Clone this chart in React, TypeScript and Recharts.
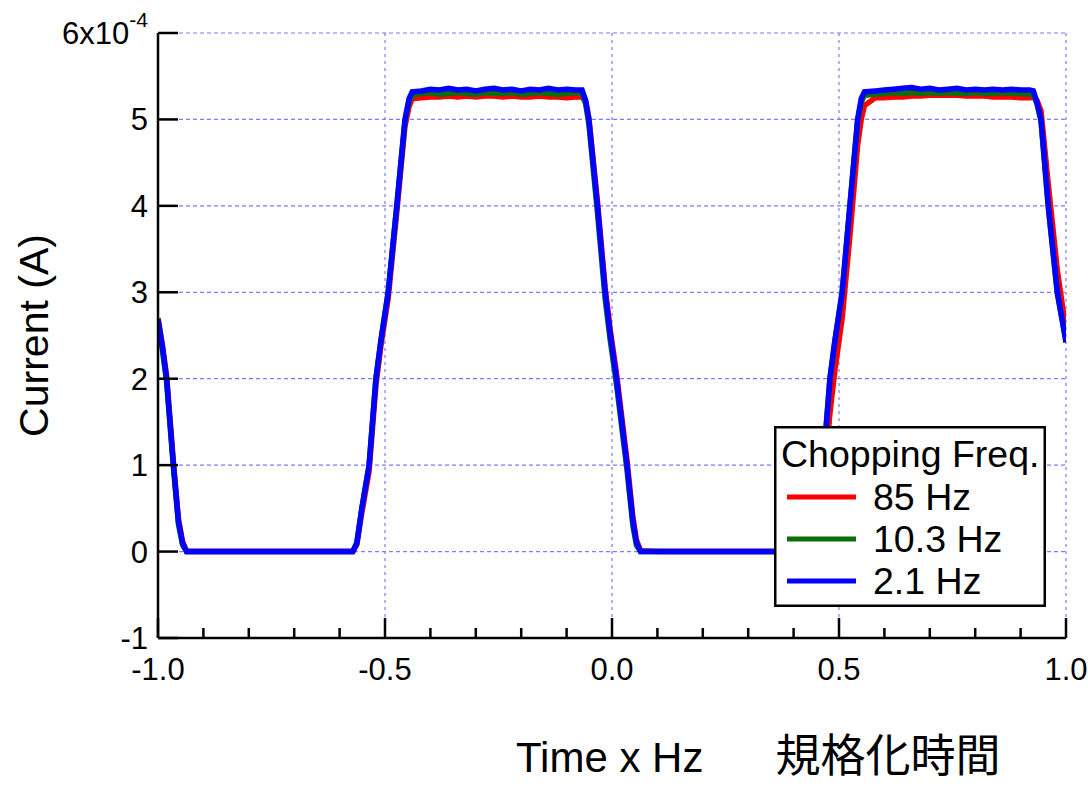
import React from 'react'
import { LineChart, Line, XAxis, YAxis, CartesianGrid, ReferenceLine, Legend, Label } from 'recharts'

// normalized time (time x chopping frequency)
const TIME = [
  -1.0, -0.99, -0.981, -0.966, -0.955, -0.946, -0.937,
  -0.9, -0.8, -0.7, -0.6, -0.571,
  -0.562, -0.551, -0.535, -0.52, -0.509, -0.493, -0.474, -0.456, -0.447, -0.44,
  -0.42, -0.4, -0.38, -0.36, -0.34, -0.32, -0.3, -0.28, -0.26, -0.24, -0.22, -0.2, -0.18, -0.16, -0.14, -0.12, -0.1, -0.08,
  -0.066, -0.058, -0.051, -0.032, -0.015, -0.004, 0.01, 0.033, 0.046, 0.054, 0.063,
  0.1, 0.2, 0.3, 0.4, 0.43,
  0.438, 0.449, 0.465, 0.48, 0.491, 0.507, 0.524, 0.541, 0.549, 0.556,
  0.58, 0.6, 0.62, 0.64, 0.66, 0.68, 0.7, 0.72, 0.74, 0.76, 0.78, 0.8, 0.82, 0.84, 0.86, 0.88, 0.9, 0.92,
  0.928, 0.936, 0.945, 0.961, 0.981, 1.0,
]

// current in units of 1e-4 A
const CUR_85HZ = [
  2.70, 2.38, 2.03, 1.03, 0.38, 0.12, 0.0,
  0, 0, 0, 0, 0,
  0.08, 0.45, 0.93, 1.92, 2.38, 2.93, 3.93, 4.92, 5.15, 5.24,
  5.25, 5.26, 5.26, 5.27, 5.26, 5.27, 5.26, 5.27, 5.27, 5.26, 5.27, 5.26, 5.26, 5.27, 5.26, 5.26, 5.25, 5.26,
  5.26, 5.2, 5.02, 4.05, 3.05, 2.57, 2.06, 1.06, 0.4, 0.13, 0.01,
  0, 0, 0, 0, 0,
  0.03, 0.25, 0.7, 1.6, 2.1, 2.7, 3.65, 4.7, 5.0, 5.16,
  5.25, 5.25, 5.26, 5.26, 5.27, 5.27, 5.28, 5.28, 5.28, 5.28, 5.27, 5.27, 5.27, 5.26, 5.26, 5.26, 5.25, 5.25,
  5.26, 5.22, 5.1, 4.25, 3.25, 2.56,
]

const CUR_10HZ = [
  2.66, 2.32, 1.96, 0.97, 0.32, 0.08, 0.0,
  0, 0, 0, 0, 0,
  0.1, 0.5, 1.0, 2.0, 2.44, 3.0, 4.0, 4.98, 5.2, 5.28,
  5.30, 5.31, 5.29, 5.30, 5.31, 5.30, 5.29, 5.31, 5.30, 5.30, 5.31, 5.29, 5.30, 5.31, 5.30, 5.29, 5.30, 5.31,
  5.30, 5.18, 4.95, 3.92, 2.92, 2.45, 1.93, 0.95, 0.3, 0.07, 0.0,
  0, 0, 0, 0, 0,
  0.1, 0.5, 1.0, 2.0, 2.44, 3.0, 4.0, 4.98, 5.2, 5.28,
  5.29, 5.30, 5.31, 5.30, 5.31, 5.30, 5.31, 5.30, 5.31, 5.30, 5.30, 5.31, 5.30, 5.30, 5.31, 5.30, 5.30, 5.29,
  5.29, 5.18, 4.98, 3.98, 2.98, 2.45,
]

const CUR_2HZ = [
  2.69, 2.36, 2.0, 1.0, 0.35, 0.1, 0.0,
  0, 0, 0, 0, 0,
  0.1, 0.5, 1.0, 2.0, 2.44, 3.0, 4.0, 5.0, 5.24, 5.32,
  5.33, 5.35, 5.34, 5.36, 5.34, 5.35, 5.33, 5.35, 5.36, 5.34, 5.35, 5.33, 5.35, 5.34, 5.36, 5.34, 5.35, 5.34,
  5.34, 5.22, 5.0, 4.0, 3.0, 2.52, 2.0, 1.0, 0.35, 0.1, 0.0,
  0, 0, 0, 0, 0,
  0.1, 0.5, 1.0, 2.0, 2.44, 3.0, 4.0, 5.0, 5.24, 5.32,
  5.33, 5.34, 5.35, 5.36, 5.37, 5.35, 5.36, 5.34, 5.35, 5.36, 5.34, 5.35, 5.34, 5.35, 5.34, 5.35, 5.34, 5.34,
  5.33, 5.2, 5.0, 4.0, 3.0, 2.42,
]

const X_TICKS = [-1.0, -0.9, -0.8, -0.7, -0.6, -0.5, -0.4, -0.3, -0.2, -0.1, 0.0, 0.1, 0.2, 0.3, 0.4, 0.5, 0.6, 0.7, 0.8, 0.9, 1.0]
const Y_TICKS = [-1, 0, 1, 2, 3, 4, 5, 6]
const X_GRID = [-0.5, 0.0, 0.5, 1.0]

const SERIES = [
  { key: 'f85', name: '85 Hz', color: '#ff0000' },
  { key: 'f10', name: '10.3 Hz', color: '#0a6e0a' },
  { key: 'f2', name: '2.1 Hz', color: '#0000ff' },
]

const rows = TIME.map((t, i) => ({ t, f85: CUR_85HZ[i], f10: CUR_10HZ[i], f2: CUR_2HZ[i] }))

const FONT = "'Liberation Sans', Arial, 'Noto Sans CJK JP', sans-serif"
const GRID = '#7b7bff'

const XTick = (props: any) => {
  const { x, y, payload } = props
  const v = payload.value
  const major = Math.abs(v * 2 - Math.round(v * 2)) < 1e-6
  return (
    <g>
      <line x1={x} x2={x} y1={y} y2={y - (major ? 20 : 10)} stroke="#000" strokeWidth={2.5} />
      {major && (
        <text x={x} y={y + 42} textAnchor="middle" fontSize={31} fill="#000">
          {v.toFixed(1)}
        </text>
      )}
    </g>
  )
}

const YTick = (props: any) => {
  const { x, y, payload } = props
  const v = payload.value
  return (
    <g>
      <line x1={x + 10} x2={x + 30} y1={y} y2={y} stroke="#000" strokeWidth={2.5} />
      <text x={x} y={y + 11} textAnchor="end" fontSize={31} fill="#000">
        {v === 6 ? (
          <>
            <tspan>6x10</tspan>
            <tspan fontSize={21} dy={-17}>-4</tspan>
          </>
        ) : (
          v
        )}
      </text>
    </g>
  )
}

const XLabel = (props: any) => {
  const vb = props.viewBox || { x: 158, y: 638 }
  return (
    <text x={vb.x + 358} y={vb.y + 134} fill="#000" fontSize={42}>
      <tspan>Time x Hz</tspan>
      <tspan dx={72} fontSize={45} fontFamily="'Noto Sans CJK JP', sans-serif">規格化時間</tspan>
    </text>
  )
}

const YLabel = (props: any) => {
  const vb = props.viewBox || { x: 0, y: 33, height: 605 }
  const cx = vb.x + 48
  const cy = vb.y + vb.height / 2
  return (
    <text x={cx} y={cy} transform={`rotate(-90, ${cx}, ${cy})`} textAnchor="middle" fontSize={41} fill="#000">
      Current (A)
    </text>
  )
}

const LegendBox = () => (
  <svg width={272} height={181} style={{ display: 'block', fontFamily: FONT }}>
    <rect x={1.25} y={1.25} width={269.5} height={178.5} fill="#fff" stroke="#000" strokeWidth={2.5} />
    <text x={7} y={41} fontSize={37.5} fill="#000">Chopping Freq.</text>
    {SERIES.map((s, i) => (
      <g key={s.key}>
        <line x1={13} x2={82} y1={71 + i * 42} y2={71 + i * 42} stroke={s.color} strokeWidth={5} />
        <text x={99} y={84 + i * 42} fontSize={37.5} fill="#000">{s.name}</text>
      </g>
    ))}
  </svg>
)

export default function App() {
  return (
    <div style={{ width: 1088, height: 786, fontFamily: FONT, background: '#fff' }}>
      <style>{'body { margin: 0; }'}</style>
      <LineChart width={1088} height={786} data={rows} margin={{ top: 33, right: 22, left: 0, bottom: 0 }}>
        <CartesianGrid horizontal vertical={false} stroke={GRID} strokeDasharray="4 3" strokeWidth={1.2} />
        {X_GRID.map((g) => (
          <ReferenceLine key={g} x={g} stroke={GRID} strokeDasharray="3 4" strokeWidth={1.2} />
        ))}
        <XAxis
          type="number"
          dataKey="t"
          domain={[-1, 1]}
          ticks={X_TICKS}
          interval={0}
          allowDataOverflow
          height={148}
          tickSize={0}
          tickMargin={0}
          tickLine={false}
          tick={XTick}
          axisLine={{ stroke: '#000', strokeWidth: 2.5 }}
        >
          <Label content={XLabel} />
        </XAxis>
        <YAxis
          type="number"
          domain={[-1, 6]}
          ticks={Y_TICKS}
          interval={0}
          allowDataOverflow
          width={158}
          tickSize={0}
          tickMargin={10}
          tickLine={false}
          tick={YTick}
          axisLine={{ stroke: '#000', strokeWidth: 2.5 }}
        >
          <Label content={YLabel} />
        </YAxis>
        {SERIES.map((s) => (
          <Line
            key={s.key}
            type="linear"
            dataKey={s.key}
            name={s.name}
            stroke={s.color}
            strokeWidth={5.5}
            dot={false}
            isAnimationActive={false}
          />
        ))}
        <Legend
          layout="vertical"
          align="center"
          verticalAlign="middle"
          content={LegendBox}
          wrapperStyle={{ left: 774, top: 426, width: 272, height: 181 }}
        />
      </LineChart>
    </div>
  )
}
